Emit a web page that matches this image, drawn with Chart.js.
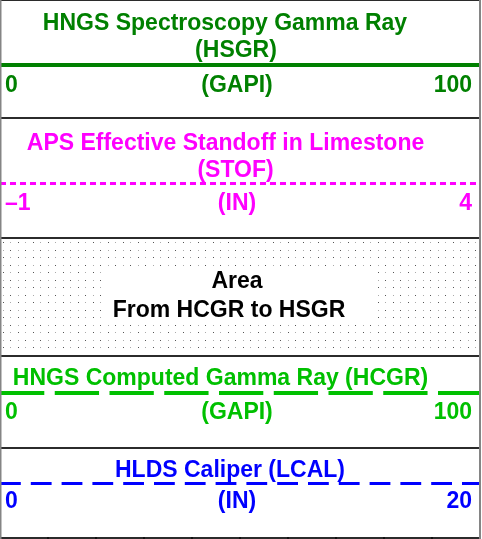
<!DOCTYPE html>
<html>
<head>
<meta charset="utf-8">
<script src="https://cdn.jsdelivr.net/npm/chart.js@4/dist/chart.umd.min.js"></script>
<style>
  html, body { margin: 0; padding: 0; background: #ffffff; }
  #wrap { position: relative; width: 482px; height: 539px; }
</style>
</head>
<body>
<div id="wrap"><canvas id="hdr" width="482" height="539"></canvas></div>
<script>
// Curve header entries, top to bottom
const curveNames = ['HNGS Spectroscopy Gamma Ray', 'APS Effective Standoff in Limestone', 'HNGS Computed Gamma Ray', 'HLDS Caliper'];
const mnemonics  = ['HSGR', 'STOF', 'HCGR', 'LCAL'];
const units      = ['GAPI', 'IN', 'GAPI', 'IN'];
const scaleMin   = [0, -1, 0, 0];
const scaleMax   = [100, 4, 100, 20];
const areaLines  = ['Area', 'From HCGR to HSGR'];
const gridValues = [10, 20, 30, 40, 50, 60, 70, 80, 90];

// Styling per curve
const curveColors = ['#008000', '#ff00ff', '#00c000', '#0000ff'];
const curveWidths = [4, 3, 4, 3];
const curveDashes = [[], [6, 4], [44.3, 10.45], [20.8, 10]];

// Layout of the header cells (pixel rows on the hidden y scale)
const LINE_Y     = [65, 183.5, 393, 483.5];
const LABEL_BASE = [92, 210, 419, 508];
const TITLE_ROWS = [
  [{ t: curveNames[0], cx: 225, by: 30 }, { t: '(' + mnemonics[0] + ')', cx: 236, by: 57 }],
  [{ t: curveNames[1], cx: 225.5, by: 150 }, { t: '(' + mnemonics[1] + ')', cx: 235.5, by: 177 }],
  [{ t: curveNames[2] + ' (' + mnemonics[2] + ')', cx: 220.5, by: 385 }],
  [{ t: curveNames[3] + ' (' + mnemonics[3] + ')', cx: 230, by: 477 }]
];
const AREA_TOP = 238, AREA_BOTTOM = 355;
const SEPARATORS = [117, 237, 355, 447, 537];
const FONT = 'bold 23px "Liberation Sans", Arial, Helvetica, sans-serif';

// Stipple fill used for the shaded-area swatch
function makeStipple() {
  const c = document.createElement('canvas');
  c.width = 15; c.height = 15;
  const g = c.getContext('2d');
  g.fillStyle = '#555555'; g.fillRect(3, 2, 1, 1); g.fillRect(10, 10, 1, 1);
  g.fillStyle = '#aaaaaa'; g.fillRect(10, 2, 1, 1); g.fillRect(3, 10, 1, 1);
  return g.createPattern(c, 'repeat');
}

function fmt(v) { return v < 0 ? '\u2013' + Math.abs(v) : String(v); }

const datasets = mnemonics.map((m, i) => ({
  label: m,
  xAxisID: 'x' + i,
  yAxisID: 'y',
  data: [{ x: scaleMin[i], y: LINE_Y[i] }, { x: scaleMax[i], y: LINE_Y[i] }],
  borderColor: curveColors[i],
  borderWidth: curveWidths[i],
  borderDash: curveDashes[i],
  borderCapStyle: 'butt',
  pointRadius: 0,
  fill: false,
  tension: 0
}));

// Shaded area swatch (HCGR to HSGR)
datasets.unshift({
  label: 'area',
  xAxisID: 'x0',
  yAxisID: 'y',
  data: [{ x: scaleMin[0], y: AREA_TOP }, { x: scaleMax[0], y: AREA_TOP }],
  borderColor: 'rgba(0,0,0,0)',
  borderWidth: 0,
  pointRadius: 0,
  backgroundColor: makeStipple(),
  fill: { value: AREA_BOTTOM }
});

const scales = { y: { type: 'linear', min: 0, max: 539, reverse: true, display: false } };
mnemonics.forEach((m, i) => {
  scales['x' + i] = { type: 'linear', position: 'bottom', min: scaleMin[i], max: scaleMax[i], display: false };
});

const headerText = {
  id: 'headerText',
  afterDatasetsDraw(chart) {
    const ctx = chart.ctx;
    ctx.save();
    // blank panel behind the area caption
    ctx.fillStyle = '#ffffff';
    ctx.fillRect(103, 268, 270, 55);

    ctx.font = FONT;
    ctx.textBaseline = 'alphabetic';
    TITLE_ROWS.forEach((rows, i) => {
      ctx.fillStyle = curveColors[i];
      ctx.textAlign = 'center';
      rows.forEach(r => ctx.fillText(r.t, r.cx, r.by));
      const sx = chart.scales['x' + i];
      ctx.textAlign = 'left';
      ctx.fillText(fmt(scaleMin[i]), sx.getPixelForValue(scaleMin[i]) + 5, LABEL_BASE[i]);
      ctx.textAlign = 'right';
      ctx.fillText(fmt(scaleMax[i]), sx.getPixelForValue(scaleMax[i]) - 8, LABEL_BASE[i]);
      ctx.textAlign = 'center';
      ctx.fillText('(' + units[i] + ')', 237, LABEL_BASE[i]);
    });

    ctx.fillStyle = '#000000';
    ctx.textAlign = 'center';
    ctx.fillText(areaLines[0], 237, 288);
    ctx.fillText(areaLines[1], 229, 317);

    // cell separators and frame
    const right = chart.chartArea.right;
    ctx.fillStyle = '#2b2b2b';
    SEPARATORS.forEach(y => ctx.fillRect(0, y, right, 2));
    ctx.fillRect(0, 0, right, 1);
    ctx.fillStyle = '#111111';
    const gx = chart.scales.x0;
    gridValues.forEach(v => ctx.fillRect(Math.round(gx.getPixelForValue(v)) - 1, 537, 2, 2));
    ctx.fillStyle = '#858585';
    ctx.fillRect(0, 0, 1.5, 539);
    ctx.fillRect(479, 0, 2, 539);
    ctx.restore();
  }
};

new Chart(document.getElementById('hdr'), {
  type: 'line',
  data: { datasets },
  options: {
    responsive: false,
    animation: false,
    devicePixelRatio: 1,
    layout: { padding: { left: 0, right: 2, top: 0, bottom: 0 } },
    scales,
    plugins: { legend: { display: false }, tooltip: { enabled: false }, title: { display: false } },
    events: []
  },
  plugins: [headerText]
});
</script>
</body>
</html>
